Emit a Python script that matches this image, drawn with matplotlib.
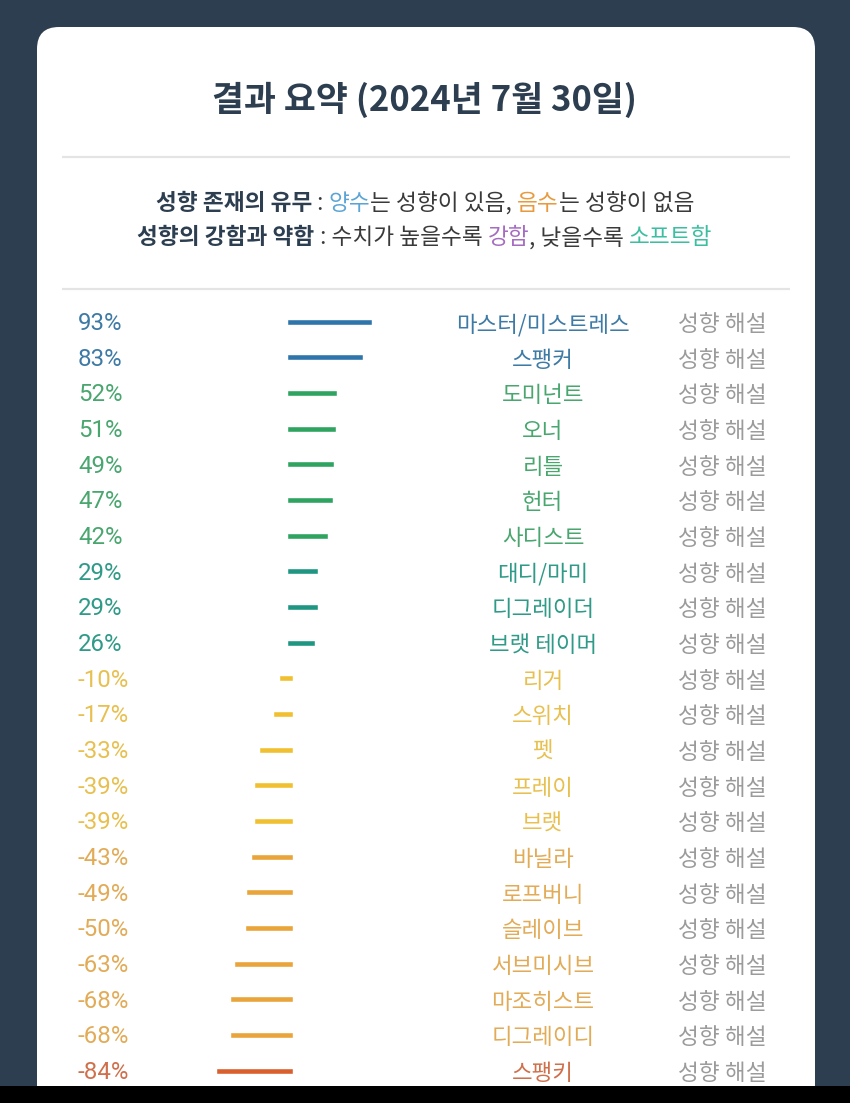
import matplotlib
matplotlib.use("Agg")
import matplotlib.pyplot as plt
from matplotlib.patches import FancyBboxPatch, Rectangle
from matplotlib.transforms import blended_transform_factory

# ---------------- data ----------------
title = "결과 요약 (2024년 7월 30일)"
categories = ["마스터/미스트레스", "스팽커", "도미넌트", "오너", "리틀", "헌터", "사디스트",
              "대디/마미", "디그레이더", "브랫 테이머", "리거", "스위치", "펫", "프레이", "브랫",
              "바닐라", "로프버니", "슬레이브", "서브미시브", "마조히스트", "디그레이디", "스팽키"]
values = [93, 83, 52, 51, 49, 47, 42, 29, 29, 26, -10, -17, -33, -39, -39, -43, -49, -50,
          -63, -68, -68, -84]
link_text = "성향 해설"
subtitle1 = [("성향 존재의 유무", "bold", "dark"), (" : ", "normal", "mid"), ("양수", "normal", "blue"),
             ("는 성향이 있음, ", "normal", "mid"), ("음수", "normal", "orange"),
             ("는 성향이 없음", "normal", "mid")]
subtitle2 = [("성향의 강함과 약함", "bold", "dark"), (" : 수치가 높을수록 ", "normal", "mid"),
             ("강함", "normal", "purple"), (", 낮을수록 ", "normal", "mid"),
             ("소프트함", "normal", "teal")]

# ---------------- style ----------------
KR = ["Noto Sans CJK KR", "DejaVu Sans"]
NUM = ["Roboto", "DejaVu Sans"]
NAVY = "#2c3e50"
sub_colors = {"dark": "#2c3e50", "mid": "#3a3a3a", "blue": "#5aa5d6", "orange": "#e89a3c",
              "purple": "#a56cc1", "teal": "#3cbfa0"}


def colors_for(v):
    if v >= 80:
        return "#2e75ab", "#3d7aa5"
    if v >= 40:
        return "#2fa460", "#48a66e"
    if v > 0:
        return "#1f9682", "#2e9a87"
    if v > -40:
        return "#f0c030", "#e8c050"
    if v > -80:
        return "#e9a43a", "#e2ab57"
    return "#d95f2f", "#cf6f4b"


W, H = 850, 1103
fig = plt.figure(figsize=(W / 100, H / 100), dpi=100)
fig.patch.set_facecolor(NAVY)

bg = fig.add_axes([0, 0, 1, 1])
bg.set_xlim(0, W)
bg.set_ylim(H, 0)
bg.axis("off")

card = FancyBboxPatch((37, 27), 778, 1150, boxstyle="round,pad=0,rounding_size=22",
                      facecolor="white", edgecolor="none", zorder=1)
bg.add_patch(card)

# title
bg.text(425, 100, title, ha="center", va="center", fontsize=25, fontweight="bold",
        color=NAVY, family=KR, zorder=3)

# separators
bg.plot([62, 790], [157, 157], color="#e4e4e4", lw=1.6, zorder=2, solid_capstyle="butt")
bg.plot([62, 790], [289, 289], color="#e4e4e4", lw=1.6, zorder=2, solid_capstyle="butt")

# subtitles with mixed colours
renderer = fig.canvas.get_renderer()


def rich_line(pieces, y, size):
    texts = []
    for s, wt, c in pieces:
        t = bg.text(0, y, s, ha="left", va="center", fontsize=size, fontweight=wt,
                    color=sub_colors[c], family=KR, zorder=3)
        texts.append(t)
    widths = [t.get_window_extent(renderer).width for t in texts]
    total = sum(widths)
    x = W / 2 - total / 2
    for t, w in zip(texts, widths):
        t.set_x(x)
        x += w


rich_line(subtitle1, 203, 16.3)
rich_line(subtitle2, 238, 16.3)

# bars axes
row0, step = 321.7, 35.67
n = len(values)
top_px = row0 - step / 2
bot_px = row0 + step * (n - 1) + step / 2
zero_px, px_per_pct = 290, 0.845
ax = fig.add_axes([(zero_px - 100 * px_per_pct) / W, 1 - bot_px / H,
                   200 * px_per_pct / W, (bot_px - top_px) / H])
ax.set_xlim(-100, 100)
ax.set_ylim(n - 0.5, -0.5)
ax.axis("off")
ax.patch.set_alpha(0)

rows = list(range(n))
bar_cols = [colors_for(v)[0] for v in values]
lc = ax.hlines(rows, 0, values, colors=bar_cols, lw=3.3)
lc.set_capstyle("projecting")

tr = blended_transform_factory(bg.transData, ax.transData)
for i, (cat, v) in enumerate(zip(categories, values)):
    _, tc = colors_for(v)
    ax.text(78, i + 0.05, f"{v}%", transform=tr, ha="left", va="center", fontsize=17.3,
            color=tc, family=NUM)
    ax.text(543, i + 0.08, cat, transform=tr, ha="center", va="center", fontsize=16.1,
            color=tc, family=KR, fontweight="medium")
    ax.text(722, i + 0.08, link_text, transform=tr, ha="center", va="center", fontsize=16.3,
            color="#9b9b9b", family=KR)

# bottom black strip
fig.add_artist(Rectangle((0, 0), 1, 17 / H, transform=fig.transFigure,
                         facecolor="black", edgecolor="none", zorder=10))

fig.savefig("out.png", dpi=100, facecolor=fig.get_facecolor())
